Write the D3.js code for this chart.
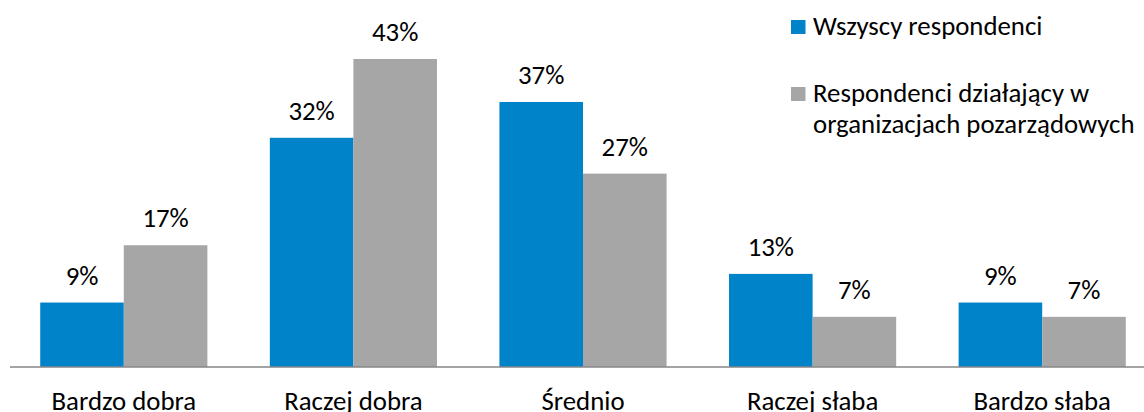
<!DOCTYPE html>
<html>
<head>
<meta charset="utf-8">
<script src="https://cdn.jsdelivr.net/npm/d3@7"></script>
<style>
  body { margin: 0; background: #fff; overflow: hidden; }
  text { font-family: Carlito, "Open Sans", sans-serif; fill: #000; }
</style>
</head>
<body>
<script>
const categories = ["Bardzo dobra", "Raczej dobra", "Średnio", "Raczej słaba", "Bardzo słaba"];
const seriesNames = ["Wszyscy respondenci", "Respondenci działający w organizacjach pozarządowych"];
const allRespondents = [9, 32, 37, 13, 9];
const ngoRespondents = [17, 43, 27, 7, 7];
const colors = ["#0083c9", "#a6a6a6"];

let width = 1144;
let height = 412;
let baseY = 367;
let fontSize = "26.8px";

let svg = d3
  .select("body")
  .append("svg")
  .attr("width", width)
  .attr("height", height);

// scales
let x = d3
  .scaleBand()
  .domain(categories)
  .range([9, 1157])
  .paddingInner(0.272)
  .paddingOuter(0.136);

let xSub = d3
  .scaleBand()
  .domain([0, 1])
  .range([0, x.bandwidth()]);

let y = d3.scaleLinear().domain([0, 43]).range([baseY, 59]);

let rows = categories.map((c, i) => ({
  cat: c,
  vals: [allRespondents[i], ngoRespondents[i]],
}));

let groups = svg
  .selectAll("g.group")
  .data(rows)
  .enter()
  .append("g")
  .attr("class", "group")
  .attr("transform", (d) => "translate(" + x(d.cat) + ",0)");

groups
  .selectAll("rect")
  .data((d) => d.vals)
  .enter()
  .append("rect")
  .attr("x", (d, i) => xSub(i))
  .attr("y", (d) => y(d))
  .attr("width", xSub.bandwidth())
  .attr("height", (d) => baseY - y(d))
  .attr("fill", (d, i) => colors[i]);

groups
  .selectAll("text.val")
  .data((d) => d.vals)
  .enter()
  .append("text")
  .attr("class", "val")
  .attr("x", (d, i) => xSub(i) + xSub.bandwidth() / 2)
  .attr("y", (d) => y(d) - 18)
  .attr("text-anchor", "middle")
  .style("font-size", fontSize)
  .text((d) => d + "%");

// axis line at bottom
let xAxis = d3.axisBottom(x).tickSize(0);
let axisG = svg
  .append("g")
  .attr("transform", "translate(0," + baseY + ")")
  .call(xAxis);
axisG.select(".domain").remove();
axisG
  .append("line")
  .attr("x1", 10)
  .attr("x2", width)
  .attr("stroke", "#868686")
  .attr("stroke-width", 1.5);
axisG
  .selectAll(".tick text")
  .style("font-size", fontSize)
  .style("font-family", "Carlito, 'Open Sans', sans-serif")
  .attr("fill", "#000")
  .attr("y", 43)
  .attr("dy", 0);

// legend
let legend = svg.append("g").attr("transform", "translate(791,0)");
let legendLines = [["Wszyscy respondenci"], ["Respondenci działający w", "organizacjach pozarządowych"]];
let legendY = [35, 102];

let items = legend
  .selectAll("g")
  .data(seriesNames)
  .enter()
  .append("g")
  .attr("transform", (d, i) => "translate(0," + legendY[i] + ")");

items
  .append("rect")
  .attr("x", 0)
  .attr("y", -15)
  .attr("width", 14.5)
  .attr("height", 14)
  .attr("fill", (d, i) => colors[i]);

items
  .append("text")
  .attr("x", 22)
  .style("font-size", fontSize)
  .selectAll("tspan")
  .data((d, i) => legendLines[i])
  .enter()
  .append("tspan")
  .attr("x", 22)
  .attr("dy", (d, j) => (j === 0 ? 0 : 31))
  .text((d) => d);
</script>
</body>
</html>
